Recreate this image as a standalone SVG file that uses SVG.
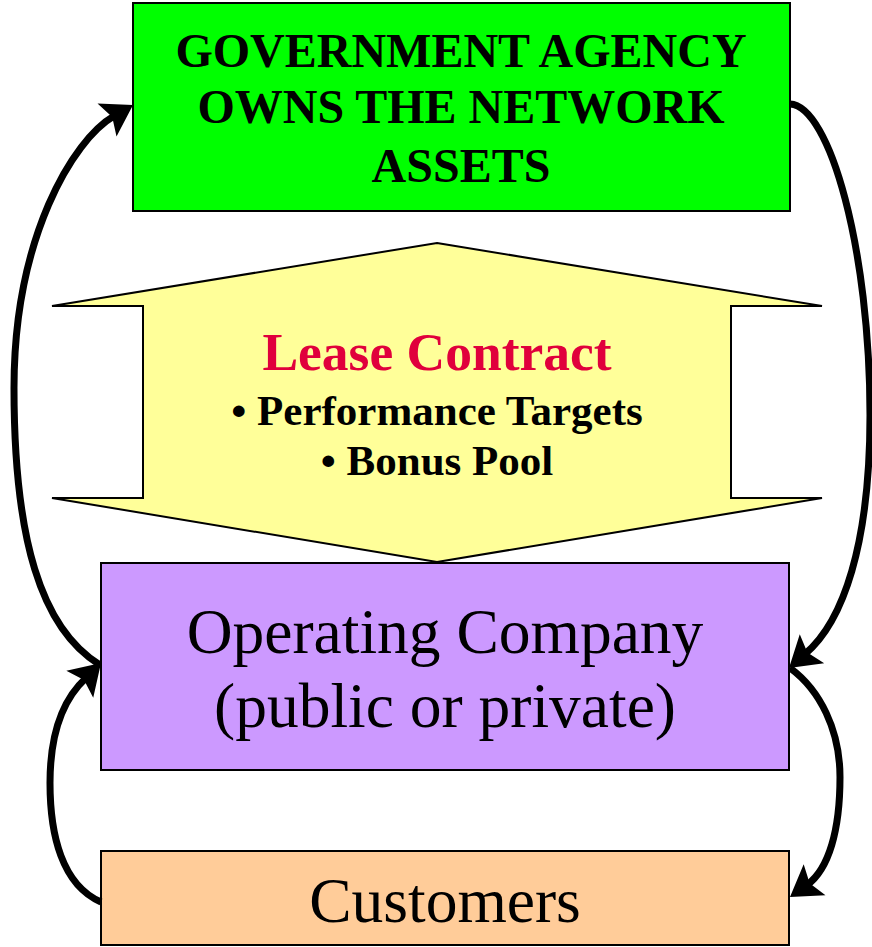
<svg xmlns="http://www.w3.org/2000/svg" width="872" height="947" viewBox="0 0 872 947">
<style>
.box{stroke:#000;stroke-width:2}
.bold{font-family:"Liberation Serif","Times New Roman",serif;font-weight:bold;text-anchor:middle}
.reg{font-family:"Liberation Serif","Times New Roman",serif;text-anchor:middle}
.conn{fill:none;stroke:#000;stroke-width:7}
</style>
<defs>
<path id="head" d="M0,0 L-30,-19 L-24,0 L-30,19 Z" fill="#000"/>
</defs>
<rect width="872" height="947" fill="#fff"/>
<g id="agency">
<rect class="box" x="133" y="3" width="657" height="208" fill="#00ff00"/>
<text class="bold" x="461" y="67" font-size="48">GOVERNMENT AGENCY</text>
<text class="bold" x="461" y="123" font-size="48">OWNS THE NETWORK</text>
<text class="bold" x="461" y="182" font-size="48">ASSETS</text>
</g>
<g id="lease">
<polygon points="437,243 822,306 731,306 731,498 822,498 437,562 52,498 143,498 143,306 52,306" fill="#ffff99" stroke="#000" stroke-width="2"/>
<text class="bold" x="437" y="370" font-size="53.5" fill="#e0003c">Lease Contract</text>
<text class="bold" x="437" y="425" font-size="43">• Performance Targets</text>
<text class="bold" x="437" y="475" font-size="43">• Bonus Pool</text>
</g>
<g id="operating">
<rect class="box" x="101" y="563" width="688" height="207" fill="#cc99ff"/>
<text class="reg" x="445" y="653" font-size="63.5">Operating Company</text>
<text class="reg" x="445" y="727" font-size="63.5">(public or private)</text>
</g>
<g id="customers">
<rect class="box" x="101" y="851" width="688" height="94" fill="#ffcc99"/>
<text class="reg" x="445" y="922" font-size="63.5">Customers</text>
</g>
<g id="connectors">
<path class="conn" d="M100,665 C40.5,628.6 14,538 14,388 C14,238 72.7,140 114,116"/>
<use href="#head" transform="translate(133,105) rotate(-30)"/>
<path class="conn" d="M790,104 C830,106 870,250 870,415 C870,545 843,622 805,654"/>
<use href="#head" transform="translate(789,668) rotate(140)"/>
<path class="conn" d="M101,902 C62,885 50,835 50,783 C50,735 62,700 86,678"/>
<use href="#head" transform="translate(101,663) rotate(-45)"/>
<path class="conn" d="M790,668 C820,690 840,730 840,777 C840,830 829,869 807,885"/>
<use href="#head" transform="translate(790,897) rotate(145)"/>
</g>
</svg>
